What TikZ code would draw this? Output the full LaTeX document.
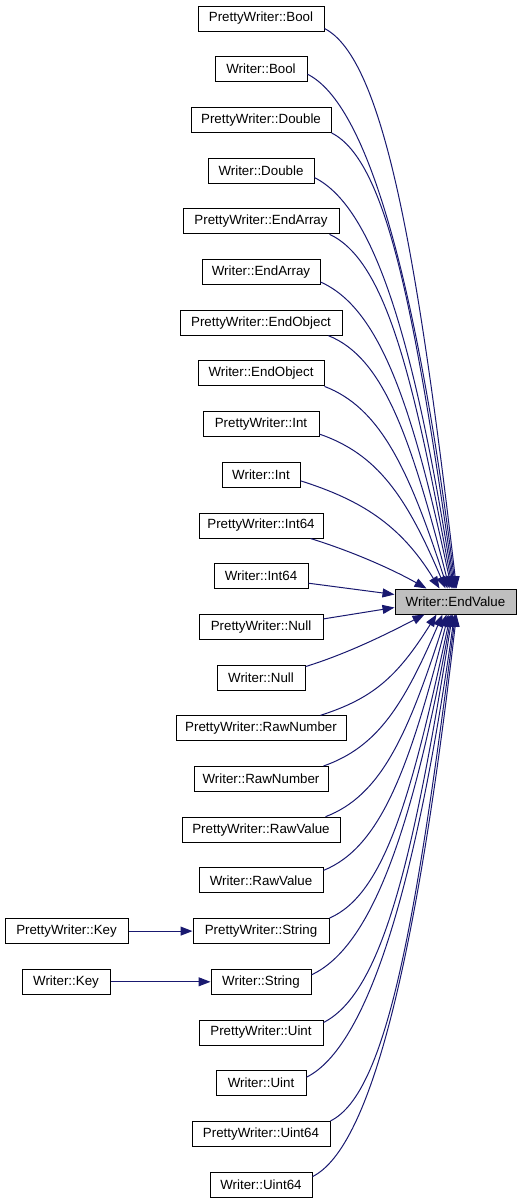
\documentclass[tikz,border=0pt]{standalone}
\usepackage{fontspec}
\setmainfont{Liberation Sans}
\usetikzlibrary{arrows.meta}
\definecolor{edgecol}{HTML}{191970}
\definecolor{targetfill}{HTML}{BFBFBF}
\begin{document}
\begin{tikzpicture}[x=1pt,y=-1pt,
  fnbox/.style={draw=black, line width=1pt, fill=white, minimum height=25pt, inner sep=0pt, font=\fontsize{13.33}{16}\selectfont},
  targetbox/.style={fnbox, fill=targetfill},
  callarrow/.style={draw=edgecol, line width=1pt, -{Triangle[length=12pt,width=9pt]}}]
\fill[white] (0,0) rectangle (521,1203);
\useasboundingbox (0,0) rectangle (521,1203);
% callers
\node[fnbox, minimum width=126pt] (pb)   at (261,18.5)   {PrettyWriter::Bool};
\node[fnbox, minimum width=92pt]  (wb)   at (261,69.2)   {Writer::Bool};
\node[fnbox, minimum width=140pt] (pd)   at (261,119.9)  {PrettyWriter::Double};
\node[fnbox, minimum width=106pt] (wd)   at (261,170.6)  {Writer::Double};
\node[fnbox, minimum width=156pt] (pea)  at (261,221.3)  {PrettyWriter::EndArray};
\node[fnbox, minimum width=118pt] (wea)  at (261,272.0)  {Writer::EndArray};
\node[fnbox, minimum width=162pt] (peo)  at (261,322.7)  {PrettyWriter::EndObject};
\node[fnbox, minimum width=126pt] (weo)  at (261,373.4)  {Writer::EndObject};
\node[fnbox, minimum width=116pt] (pi)   at (261,424.1)  {PrettyWriter::Int};
\node[fnbox, minimum width=78pt]  (wi)   at (261,474.8)  {Writer::Int};
\node[fnbox, minimum width=124pt] (pif)  at (261,525.5)  {PrettyWriter::Int64};
\node[fnbox, minimum width=94pt]  (wif)  at (261,576.2)  {Writer::Int64};
\node[fnbox, minimum width=124pt] (pn)   at (261,626.9)  {PrettyWriter::Null};
\node[fnbox, minimum width=88pt]  (wn)   at (261,677.6)  {Writer::Null};
\node[fnbox, minimum width=170pt] (prn)  at (261,728.3)  {PrettyWriter::RawNumber};
\node[fnbox, minimum width=134pt] (wrn)  at (261,779.0)  {Writer::RawNumber};
\node[fnbox, minimum width=158pt] (prv)  at (261,829.7)  {PrettyWriter::RawValue};
\node[fnbox, minimum width=124pt] (wrv)  at (261,880.4)  {Writer::RawValue};
\node[fnbox, minimum width=136pt] (ps)   at (261,931.1)  {PrettyWriter::String};
\node[fnbox, minimum width=100pt] (ws)   at (261,981.8)  {Writer::String};
\node[fnbox, minimum width=124pt] (pu)   at (261,1032.5) {PrettyWriter::Uint};
\node[fnbox, minimum width=90pt]  (wu)   at (261,1083.2) {Writer::Uint};
\node[fnbox, minimum width=138pt] (puf)  at (261,1133.9) {PrettyWriter::Uint64};
\node[fnbox, minimum width=102pt] (wuf)  at (261,1184.6) {Writer::Uint64};
\node[fnbox, minimum width=123pt] (pk)   at (66.5,931.1) {PrettyWriter::Key};
\node[fnbox, minimum width=88pt]  (wk)   at (66,981.8)   {Writer::Key};
% target
\node[targetbox, minimum width=121pt] (ev) at (455.5,601.5) {Writer::EndValue};
% edges above
\draw[callarrow] ([yshift=-10pt]pb.east) .. controls +(59,30) and +(-39,-336) .. ([xshift=62pt]ev.north west);
\draw[callarrow] ([yshift=-5pt]wb.east) .. controls +(60,30) and +(-39,-309) .. ([xshift=61pt]ev.north west);
\draw[callarrow] (pd.south east) .. controls +(56,28) and +(-39,-274) .. ([xshift=60pt]ev.north west);
\draw[callarrow] ([yshift=-7pt]wd.east) .. controls +(60,30) and +(-39,-247) .. ([xshift=59pt]ev.north west);
\draw[callarrow] ([xshift=-10pt]pea.south east) .. controls +(56,26) and +(-39,-213) .. ([xshift=58pt]ev.north west);
\draw[callarrow] ([yshift=-10pt]wea.east) .. controls +(59,26) and +(-39,-184) .. ([xshift=57pt]ev.north west);
\draw[callarrow] ([xshift=-14pt]peo.south east) .. controls +(55,22) and +(-39,-152) .. ([xshift=55pt]ev.north west);
\draw[callarrow] (weo.south east) .. controls +(55,21) and +(-39,-121) .. ([xshift=53pt]ev.north west);
\draw[callarrow] ([yshift=-10pt]pi.east) .. controls +(58,20) and +(-39,-92) .. ([xshift=51pt]ev.north west);
\draw[callarrow] ([yshift=-6pt]wi.east) .. controls +(60,19) and +(-39,-64) .. ([xshift=45pt]ev.north west);
\draw[callarrow] ([xshift=-13pt]pif.south east) .. controls +(45,14) and +(-32,-18) .. ([xshift=32pt]ev.north west);
\draw[callarrow] ([yshift=-7pt]wif.east) -- ([yshift=7pt]ev.west);
% edges below
\draw[callarrow] ([yshift=8pt]pn.east) -- ([yshift=-6pt]ev.west);
\draw[callarrow] ([yshift=11pt]wn.east) .. controls +(45,-14) and +(-33,17) .. ([xshift=30pt]ev.south west);
\draw[callarrow] ([xshift=-26pt]prn.north east) .. controls +(53,-17) and +(-39,62) .. ([xshift=42pt]ev.south west);
\draw[callarrow] ([xshift=-5pt]wrn.north east) .. controls +(54,-19) and +(-39,91) .. ([xshift=48pt]ev.south west);
\draw[callarrow] ([xshift=-15pt]prv.north east) .. controls +(55,-21) and +(-39,122) .. ([xshift=52pt]ev.south west);
\draw[callarrow] ([yshift=10pt]wrv.east) .. controls +(57,-23) and +(-39,154) .. ([xshift=54pt]ev.south west);
\draw[callarrow] (ps.north east) .. controls +(55,-24) and +(-39,182) .. ([xshift=56pt]ev.south west);
\draw[callarrow] ([yshift=7pt]ws.east) .. controls +(60,-28) and +(-39,216) .. ([xshift=57pt]ev.south west);
\draw[callarrow] ([yshift=10pt]pu.east) .. controls +(59,-30) and +(-39,244) .. ([xshift=58pt]ev.south west);
\draw[callarrow] ([yshift=6pt]wu.east) .. controls +(60,-30) and +(-39,277) .. ([xshift=60pt]ev.south west);
\draw[callarrow] (puf.north east) .. controls +(57,-28) and +(-39,304) .. ([xshift=61pt]ev.south west);
\draw[callarrow] ([yshift=8pt]wuf.east) .. controls +(60,-30) and +(-39,337) .. ([xshift=62pt]ev.south west);
% key edges
\draw[callarrow] (pk.east) -- (ps.west);
\draw[callarrow] (wk.east) -- (ws.west);
\end{tikzpicture}
\end{document}
